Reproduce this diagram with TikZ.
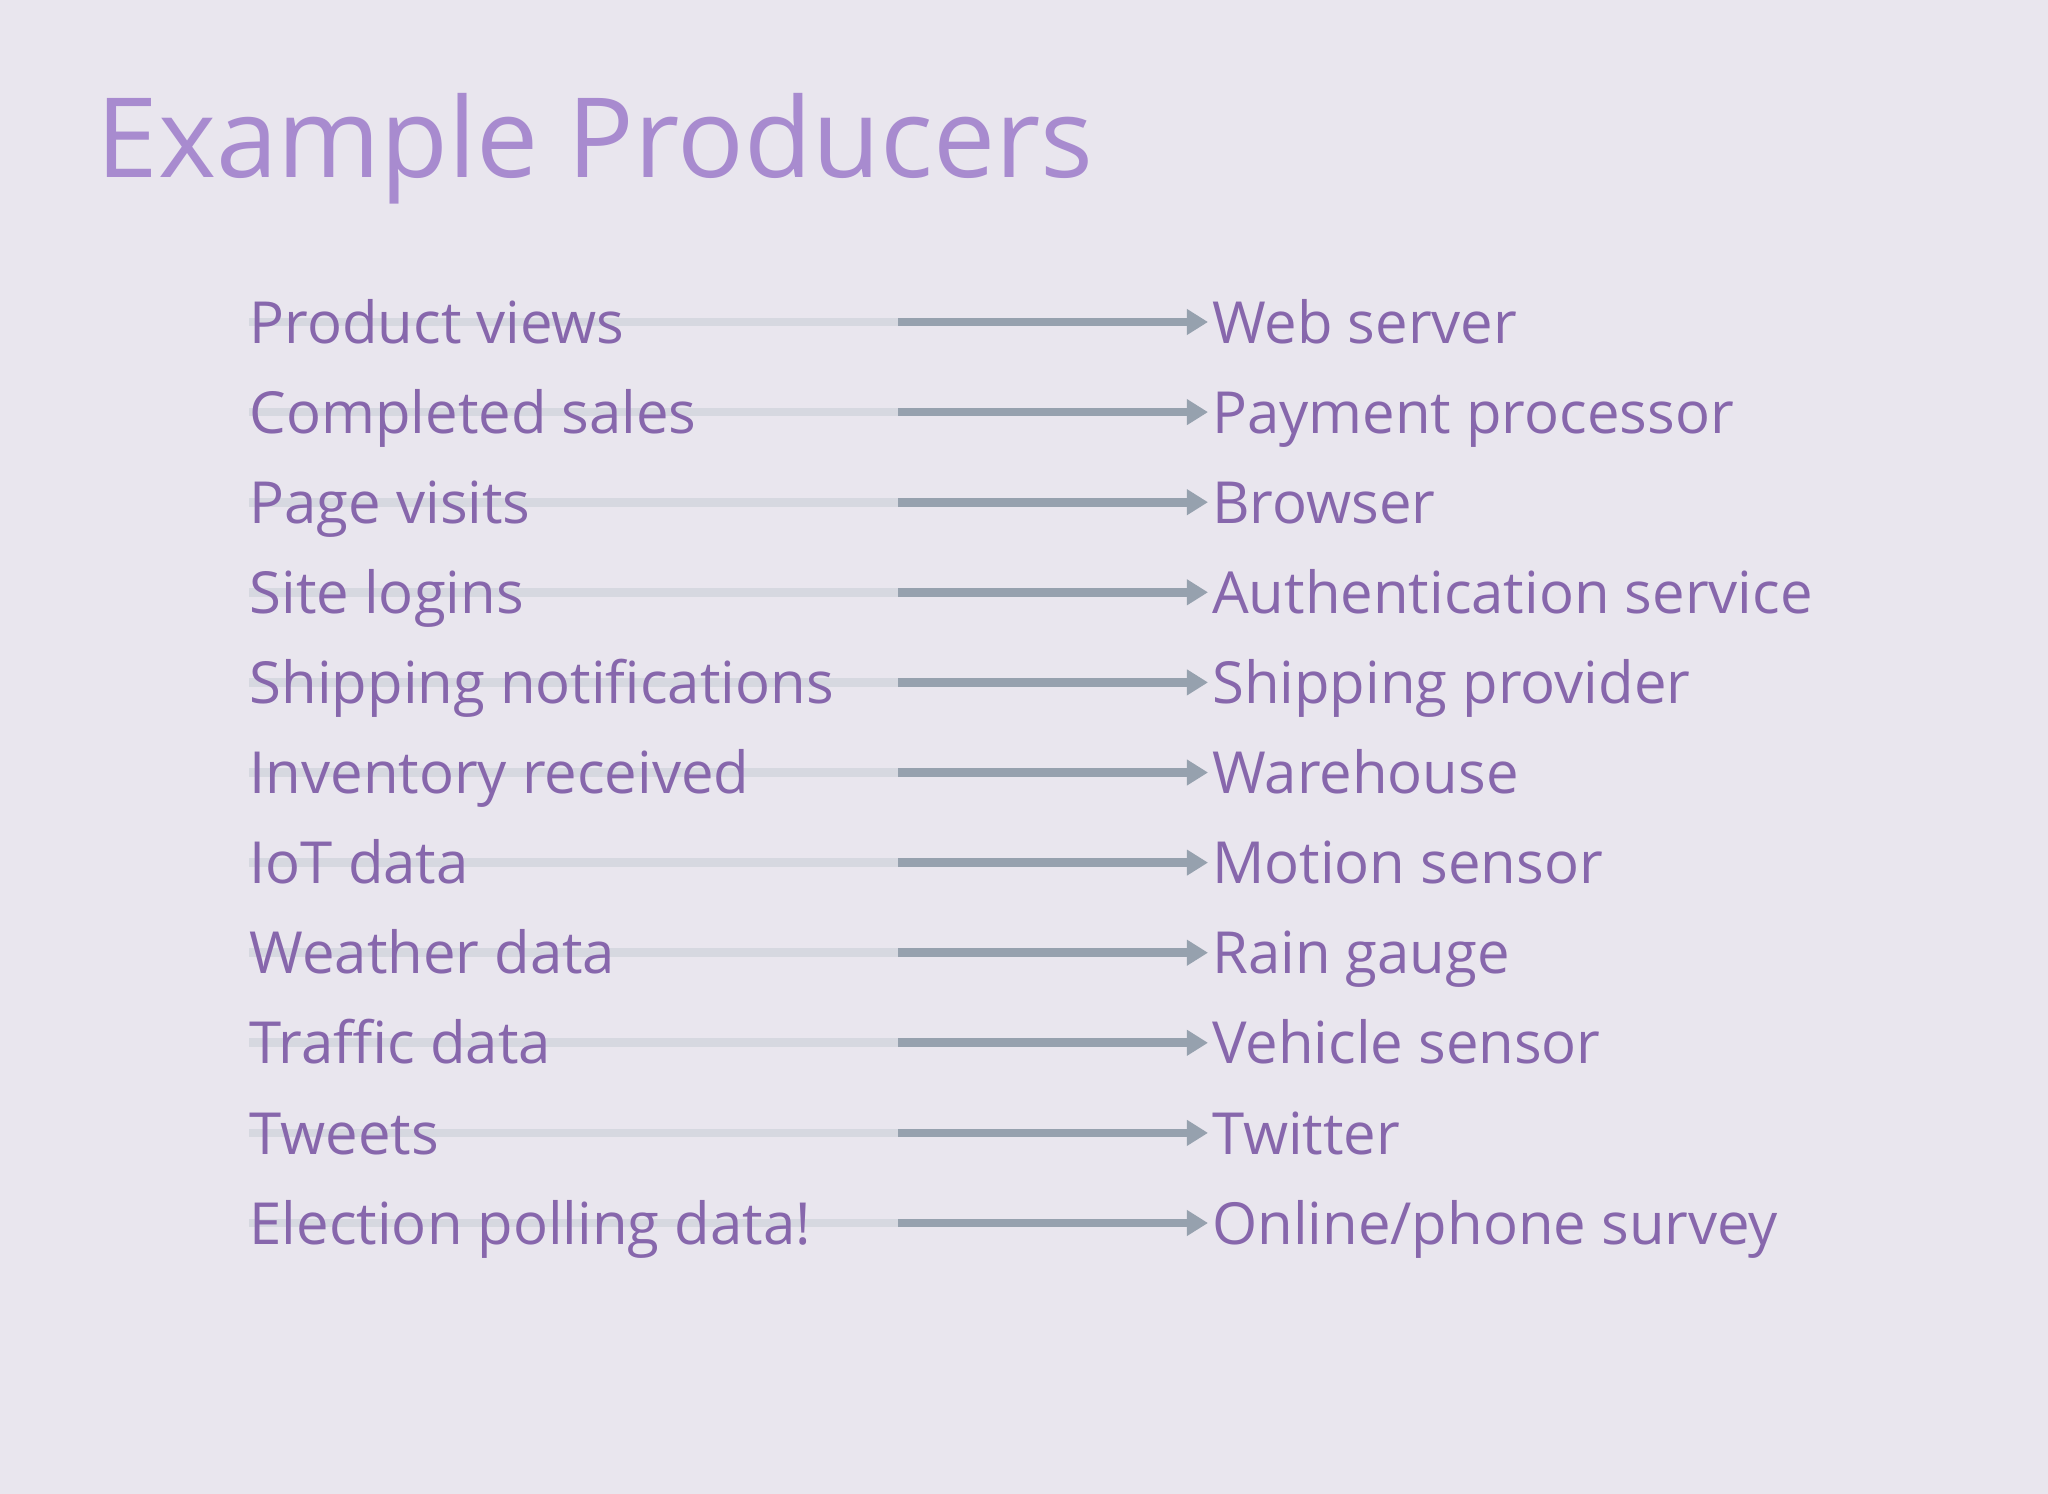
\documentclass[tikz,border=0pt]{standalone}
\usepackage{fontspec}
\setmainfont{Open Sans}
\usetikzlibrary{arrows.meta}
\definecolor{bgcol}{HTML}{E9E6EE}
\definecolor{titlecol}{HTML}{A88BCF}
\definecolor{txtcol}{HTML}{8767AC}
\definecolor{arrcol}{HTML}{96A1AE}
\definecolor{fadecol}{HTML}{D6D8E0}
\tikzset{
	item/.style={anchor=base west,inner sep=0pt,text=txtcol,font=\fontsize{16.5}{20}\selectfont},
	fade/.style={fadecol,line width=2.5pt},
	feed/.style={arrcol,line width=2.5pt,-{Triangle[length=6pt,width=7pt]}}
}
\begin{document}
\begin{tikzpicture}[x=0.01cm,y=-0.01cm]
	\fill[bgcol] (0,0) rectangle (2048,1494);
	\node[anchor=base west,inner sep=0pt,text=titlecol,font=\fontsize{31.5}{38}\selectfont] (title) at (96,178) {Example Producers};
	% producers on the left, sources on the right
	\foreach \Yc/\Left/\Right [count=\i] in
	{0/Product views/Web server,
	 1/Completed sales/Payment processor,
	 2/Page visits/Browser,
	 3/Site logins/Authentication service,
	 4/Shipping notifications/Shipping provider,
	 5/Inventory received/Warehouse,
	 6/IoT data/Motion sensor,
	 7/Weather data/Rain gauge,
	 8/Traffic data/Vehicle sensor,
	 9/Tweets/Twitter,
	 10/Election polling data!/{Online/phone survey}}
	{
		\coordinate (s\i) at (249,322+90.1*\Yc);
		\coordinate (m\i) at (898,322+90.1*\Yc);
		\coordinate (e\i) at (1208,322+90.1*\Yc);
		\draw[fade] (s\i) -- (m\i);
		\draw[feed] (m\i) -- (e\i);
		\node[item] (l\i) at ([yshift=-6pt]s\i) {\Left};
		\node[item] (r\i) at ([xshift=1pt,yshift=-6pt]e\i) {\Right};
	}
\end{tikzpicture}
\end{document}
